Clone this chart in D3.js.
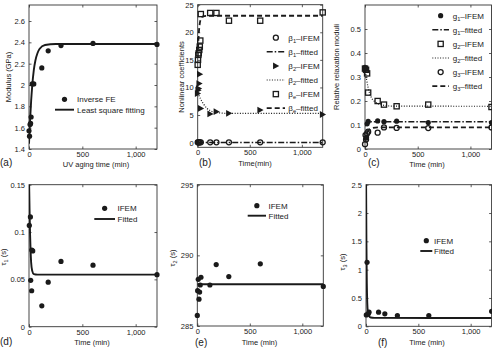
<!DOCTYPE html>
<html>
<head>
<meta charset="utf-8">
<title>UV aging fits</title>
<script src="https://cdn.jsdelivr.net/npm/d3@7"></script>
<style>
  body { margin: 0; background: #fff; }
  svg { display: block; font-family: "Liberation Sans", Arial, sans-serif; }
</style>
</head>
<body>
<script>
// ---- data ----
// (a) modulus
var aTime = [0, 5, 10, 15, 20, 30, 45, 120, 180, 300, 600, 1200];
var aModulus = [1.57, 1.52, 1.63, 1.64, 1.70, 2.01, 2.01, 2.16, 2.32, 2.37, 2.39, 2.38];
var aFitTime = [0, 10, 20, 30, 45, 60, 80, 100, 150, 250, 1200];
var aFit = [1.45, 1.67, 1.85, 1.99, 2.14, 2.23, 2.30, 2.34, 2.375, 2.385, 2.385];

// (b) nonlinear coefficients
var b1Time = [0, 5, 10, 15, 20, 30, 120, 180, 300, 600, 1200];
var beta1 = [0.05, 0.05, 0.05, 0.05, 0.05, 0.05, 0.05, 0.05, 0.05, 0.05, 0.05];
var b2Time = [0, 5, 10, 15, 20, 30, 120, 180, 300, 600, 1200];
var beta2 = [8.9, 9.5, 9.8, 10.7, 12.4, 6.2, 5.2, 5.6, 5.3, 5.9, 5.1];
var beTime = [0, 3, 6, 10, 15, 20, 25, 30, 120, 180, 300, 600, 1200];
var betaE = [14.1, 15.0, 15.9, 16.2, 16.8, 17.4, 18.5, 23.3, 23.5, 23.5, 22.1, 22.1, 23.6];
var b1FitTime = [0, 1200];
var beta1Fit = [0, 0];
var b2FitTime = [0, 20, 40, 60, 90, 120, 180, 300, 1200];
var beta2Fit = [9.0, 8.2, 7.5, 6.9, 6.2, 5.8, 5.45, 5.3, 5.3];
var beFitTime = [0, 5, 10, 20, 30, 50, 100, 1200];
var betaEFit = [15.5, 17.8, 19.6, 21.6, 22.4, 22.9, 23.0, 23.0];

// (c) relative relaxation moduli
var g1Time = [0, 5, 10, 15, 20, 30, 120, 180, 300, 600, 1200];
var g1 = [0.34, 0.335, 0.045, 0.05, 0.105, 0.115, 0.117, 0.114, 0.116, 0.110, 0.110];
var g2Time = [0, 10, 20, 30, 120, 180, 300, 600, 1200];
var g2 = [0.335, 0.33, 0.315, 0.235, 0.20, 0.185, 0.178, 0.185, 0.175];
var g3Time = [0, 5, 10, 20, 30, 120, 180, 300, 600, 1200];
var g3 = [0.02, 0.058, 0.04, 0.065, 0.072, 0.068, 0.09, 0.088, 0.087, 0.09];
var g1FitTime = [0, 10, 20, 40, 1200];
var g1Fit = [0.095, 0.108, 0.112, 0.114, 0.114];
var g2FitTime = [0, 15, 30, 60, 100, 150, 250, 1200];
var g2Fit = [0.335, 0.29, 0.255, 0.215, 0.195, 0.185, 0.179, 0.178];
var g3FitTime = [0, 10, 20, 40, 70, 120, 1200];
var g3Fit = [0.035, 0.055, 0.068, 0.08, 0.087, 0.09, 0.09];

// (d) tau1
var dTime = [3, 13, 16, 25, 26, 35, 120, 180, 300, 600, 1200];
var tau1 = [0.107, 0.116, 0.049, 0.038, 0.081, 0.080, 0.022, 0.047, 0.069, 0.065, 0.055];
var dFitTime = [0, 5, 10, 15, 20, 30, 45, 80, 1200];
var tau1Fit = [0.16, 0.125, 0.098, 0.08, 0.068, 0.059, 0.0555, 0.055, 0.055];

// (e) tau2
var eTime = [0, 3, 9, 16, 22, 28, 35, 120, 180, 300, 600, 1200];
var tau2 = [285.75, 287.5, 288.3, 286.9, 287.4, 287.9, 288.45, 287.9, 289.35, 288.5, 289.4, 287.8];
var eFitTime = [0, 1200];
var tau2Fit = [287.95, 287.95];

// (f) tau3
var fTime = [3, 10, 22, 29, 120, 180, 300, 600, 1200];
var tau3 = [0.2, 1.13, 0.22, 0.25, 0.25, 0.22, 0.19, 0.19, 0.265];
var fFitTime = [0, 4, 8, 12, 18, 28, 45, 80, 1200];
var tau3Fit = [2.9, 1.5, 0.75, 0.42, 0.25, 0.18, 0.155, 0.148, 0.147];

// tick values
var timeTicks = [0, 500, 1000];
var aTicks = [1.4, 1.6, 1.8, 2, 2.2, 2.4, 2.6];
var bTicks = [0, 5, 10, 15, 20, 25];
var cTicks = [0, 0.1, 0.2, 0.3, 0.4, 0.5];
var dTicks = [0, 0.05, 0.1, 0.15];
var eTicks = [285, 290, 295];
var fTicks = [0, 0.5, 1, 1.5, 2, 2.5];

function zip(xs, ys) { return xs.map(function(x, i) { return [x, ys[i]]; }); }

var ink = "#1a1a1a";
var fs = 7.5;
var svg = d3.select("body").append("svg").attr("width", 492).attr("height", 348);

var styles = {
  solid:   { dash: null, width: 1.9 },
  dashdot: { dash: "6,2,1.5,2", width: 1.5 },
  dotted:  { dash: "1,1.6", width: 1.2 },
  dashed:  { dash: "5,3", width: 1.8 }
};

function drawMarker(g, type, cx, cy) {
  if (type == "dot") {
    g.append("circle").attr("cx", cx).attr("cy", cy).attr("r", 2.6).attr("fill", ink);
  } else if (type == "circle") {
    g.append("circle").attr("cx", cx).attr("cy", cy).attr("r", 2.5)
      .attr("fill", "none").attr("stroke", ink).attr("stroke-width", 1.3);
  } else if (type == "square") {
    g.append("rect").attr("x", cx - 2.6).attr("y", cy - 2.6).attr("width", 5.2).attr("height", 5.2)
      .attr("fill", "none").attr("stroke", ink).attr("stroke-width", 1.3);
  } else if (type == "tri") {
    g.append("path").attr("d", "M" + (cx - 2.8) + "," + (cy - 3.4) + "L" + (cx + 3.4) + "," + cy + "L" + (cx - 2.8) + "," + (cy + 3.4) + "Z")
      .attr("fill", ink);
  }
}

// text with an optional subscript: parts = [base, sub, rest]
function richText(t, parts, size) {
  t.append("tspan").text(parts[0]);
  if (parts[1]) {
    t.append("tspan").attr("dy", 2).attr("font-size", size * 0.72).text(parts[1]);
    t.append("tspan").attr("dy", -2).text(parts[2]);
  }
}

function panel(p) {
  var x = d3.scaleLinear().domain([0, 1200]).range(p.xr);
  var y = d3.scaleLinear().domain(p.yd).range(p.yr);
  var g = svg.append("g");
  var x0 = p.xr[0], x1 = p.xr[1], yTop = p.yr[1], yBot = p.yr[0];

  var clipId = "clip" + p.name;
  svg.append("clipPath").attr("id", clipId).append("rect")
    .attr("x", x0).attr("y", yTop).attr("width", x1 - x0).attr("height", yBot - yTop);

  // ticks (inward, both sides), drawn with d3 axes
  var tl = 2.5;
  g.append("g").attr("transform", "translate(0," + yBot + ")")
    .call(d3.axisBottom(x).tickValues(timeTicks).tickSize(-tl).tickSizeOuter(0).tickPadding(2.5))
    .call(styleAxis);
  g.append("g").attr("transform", "translate(0," + yTop + ")")
    .call(d3.axisTop(x).tickValues(timeTicks).tickSize(-tl).tickSizeOuter(0).tickFormat(""))
    .call(styleAxis);
  g.append("g").attr("transform", "translate(" + x0 + ",0)")
    .call(d3.axisLeft(y).tickValues(p.yt).tickSize(-tl).tickSizeOuter(0).tickPadding(4).tickFormat(d3.format("~g")))
    .call(styleAxis);
  g.append("g").attr("transform", "translate(" + x1 + ",0)")
    .call(d3.axisRight(y).tickValues(p.yt).tickSize(-tl).tickSizeOuter(0).tickFormat(""))
    .call(styleAxis);

  g.append("rect").attr("x", x0).attr("y", yTop).attr("width", x1 - x0).attr("height", yBot - yTop)
    .attr("fill", "none").attr("stroke", "#333").attr("stroke-width", 0.9);

  var line = d3.line().x(function(d) { return x(d[0]); }).y(function(d) { return y(d[1]); })
    .curve(d3.curveMonotoneX);

  p.fits.forEach(function(f) {
    var s = styles[f.style];
    g.append("path").datum(f.data).attr("d", line).attr("clip-path", "url(#" + clipId + ")")
      .attr("fill", "none").attr("stroke", ink).attr("stroke-width", s.width)
      .attr("stroke-dasharray", s.dash);
  });
  p.points.forEach(function(s) {
    s.data.forEach(function(d) { drawMarker(g, s.marker, x(d[0]), y(d[1])); });
  });

  // legend
  p.legend.forEach(function(it) {
    var ly = it.y;
    if (it.marker) drawMarker(g, it.marker, (it.lx0 + it.lx1) / 2, ly);
    else {
      var s = styles[it.style];
      g.append("line").attr("x1", it.lx0).attr("x2", it.lx1).attr("y1", ly).attr("y2", ly)
        .attr("stroke", ink).attr("stroke-width", s.width).attr("stroke-dasharray", s.dash);
    }
    var t = g.append("text").attr("x", it.tx).attr("y", ly + 3).attr("font-size", 8).attr("fill", ink);
    richText(t, it.label, 8);
  });

  // axis titles
  svg.append("text").attr("x", p.xlab[0]).attr("y", p.xlab[1]).attr("text-anchor", "middle")
    .attr("font-size", fs).attr("fill", ink).text(p.xtitle);
  var yt = svg.append("text").attr("transform", "translate(" + p.ylab[0] + "," + p.ylab[1] + ") rotate(-90)")
    .attr("text-anchor", "middle").attr("font-size", fs).attr("fill", ink);
  richText(yt, p.ytitle, fs);

  svg.append("text").attr("x", p.tag[0]).attr("y", p.tag[1]).attr("font-size", 10)
    .attr("fill", ink).text("(" + p.name + ")");
}

function styleAxis(sel) {
  sel.select(".domain").remove();
  sel.selectAll("line").attr("stroke", "#333").attr("stroke-width", 0.8);
  sel.selectAll("text").attr("font-size", fs).attr("fill", ink)
    .attr("font-family", "Liberation Sans, Arial, sans-serif");
}

function leg(rows, lx0, lx1, tx) {
  return rows.map(function(r) {
    return { y: r[0], marker: r[1], style: r[2], label: r[3], lx0: lx0, lx1: lx1, tx: tx };
  });
}

panel({
  name: "a", xr: [29, 157], yr: [149, 5], yd: [1.4, 2.75], yt: aTicks,
  fits: [{ style: "solid", data: zip(aFitTime, aFit) }],
  points: [{ marker: "dot", data: zip(aTime, aModulus) }],
  legend: leg([[99.3, "dot", null, ["Inverse FE"]], [109.7, null, "solid", ["Least square fitting"]]], 55, 74, 77),
  xtitle: "UV aging time (min)", xlab: [96, 167], ytitle: ["Modulus (GPa)"], ylab: [11, 77], tag: [0, 166]
});

panel({
  name: "b", xr: [197.7, 322.7], yr: [147.3, 4.7], yd: [-0.85, 25], yt: bTicks,
  fits: [{ style: "dashdot", data: zip(b1FitTime, beta1Fit) },
         { style: "dotted", data: zip(b2FitTime, beta2Fit) },
         { style: "dashed", data: zip(beFitTime, betaEFit) }],
  points: [{ marker: "circle", data: zip(b1Time, beta1) },
           { marker: "tri", data: zip(b2Time, beta2) },
           { marker: "square", data: zip(beTime, betaE) }],
  legend: leg([[37.7, "circle", null, ["β", "1", "–IFEM"]],
               [51.8, null, "dashdot", ["β", "1", "–fitted"]],
               [65.9, "tri", null, ["β", "2", "–IFEM"]],
               [80.0, null, "dotted", ["β", "2", "–fitted"]],
               [94.1, "square", null, ["β", "e", "–IFEM"]],
               [108.2, null, "dashed", ["β", "e", "–fitted"]]], 266.7, 285, 288.3),
  xtitle: "Time(min)", xlab: [255, 166], ytitle: ["Nonlinear coefficients"], ylab: [184, 77], tag: [199, 166]
});

panel({
  name: "c", xr: [365, 491.5], yr: [149, 5], yd: [0, 0.6], yt: cTicks,
  fits: [{ style: "dashdot", data: zip(g1FitTime, g1Fit) },
         { style: "dotted", data: zip(g2FitTime, g2Fit) },
         { style: "dashed", data: zip(g3FitTime, g3Fit) }],
  points: [{ marker: "dot", data: zip(g1Time, g1) },
           { marker: "square", data: zip(g2Time, g2) },
           { marker: "circle", data: zip(g3Time, g3) }],
  legend: leg([[15.7, "dot", null, ["g", "1", "–IFEM"]],
               [29.8, null, "dashdot", ["g", "1", "–fitted"]],
               [43.9, "square", null, ["g", "2", "–IFEM"]],
               [58.0, null, "dotted", ["g", "2", "–fitted"]],
               [72.1, "circle", null, ["g", "3", "–IFEM"]],
               [86.2, null, "dashed", ["g", "3", "–fitted"]]], 432.3, 449, 452.7),
  xtitle: "Time (min)", xlab: [427, 167], ytitle: ["Relative relaxation moduli"], ylab: [339, 67], tag: [368, 166]
});

panel({
  name: "d", xr: [29, 157], yr: [326.7, 184.7], yd: [0, 0.15], yt: dTicks,
  fits: [{ style: "solid", data: zip(dFitTime, tau1Fit) }],
  points: [{ marker: "dot", data: zip(dTime, tau1) }],
  legend: leg([[208.3, "dot", null, ["IFEM"]], [219, null, "solid", ["Fitted"]]], 94.3, 115, 117.5),
  xtitle: "Time (min)", xlab: [92, 345], ytitle: ["τ", "1", " (s)"], ylab: [6, 257], tag: [0, 345]
});

panel({
  name: "e", xr: [197.3, 323.3], yr: [326, 184.7], yd: [285, 295], yt: eTicks,
  fits: [{ style: "solid", data: zip(eFitTime, tau2Fit) }],
  points: [{ marker: "dot", data: zip(eTime, tau2) }],
  legend: leg([[205.7, "dot", null, ["IFEM"]], [215.7, null, "solid", ["Fitted"]]], 247.7, 266, 268.5),
  xtitle: "Time (min)", xlab: [259.5, 345], ytitle: ["τ", "2", " (s)"], ylab: [175, 258], tag: [195, 346]
});

panel({
  name: "f", xr: [366, 491.6], yr: [326.3, 184.7], yd: [0, 2.5], yt: fTicks,
  fits: [{ style: "solid", data: zip(fFitTime, tau3Fit) }],
  points: [{ marker: "dot", data: zip(fTime, tau3) }],
  legend: leg([[240.7, "dot", null, ["IFEM"]], [251, null, "solid", ["Fitted"]]], 420.3, 432.3, 434),
  xtitle: "Time (min)", xlab: [427, 345], ytitle: ["τ", "3", " (s)"], ylab: [345, 262], tag: [378, 346]
});
</script>
</body>
</html>
